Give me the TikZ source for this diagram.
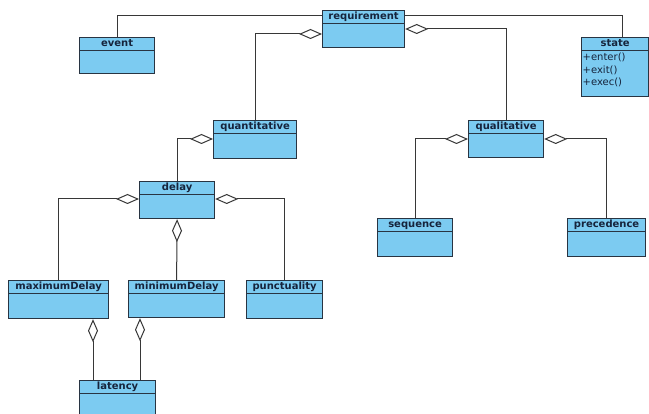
\documentclass[tikz,border=0pt]{standalone}
\usepackage{fontspec}
\setmainfont{DejaVu Sans}
\usepackage{tikz}
\usetikzlibrary{arrows.meta,calc}
\definecolor{clsfill}{RGB}{124,203,241}
\definecolor{clsline}{RGB}{40,52,66}
\definecolor{clstext}{RGB}{22,36,60}
\definecolor{lnk}{RGB}{55,55,55}
\tikzset{
  cls/.style={draw=clsline,fill=clsfill,line width=1.2pt,anchor=north west,inner sep=0pt},
  clshead/.style={draw=clsline,fill=clsfill,line width=1.2pt,anchor=north,inner sep=0pt,
    minimum height=13pt,text height=7.5pt,text depth=2pt,
    font=\fontsize{10}{12}\selectfont\bfseries,text=clstext},
  clsattr/.style={anchor=north west,align=left,inner sep=0pt,
    font=\fontsize{10}{12.5}\selectfont,text=clstext},
  assoc/.style={line width=1pt,draw=lnk},                                   % plain association
  agg/.style={assoc,{Diamond[open,length=23pt,width=10pt]}-},              % aggregation, diamond at whole
}

\begin{document}
\begin{tikzpicture}[x=1pt,y=-1pt]
  \fill[white] (0,0) rectangle (649,414);
  \useasboundingbox (0,0) rectangle (649,414);
  \clip (0,0) rectangle (649,414);
  % classes: name/x/y/width/height
  \foreach \nm/\x/\y/\w/\h in {requirement/322/10/82/37, event/79/37/75/36, state/581/37/67/59,
      quantitative/213/120/83/38, qualitative/468/120/75/37, delay/139/181/75/37,
      sequence/377/218/75/38, precedence/567/218/78/38, maximumDelay/8/280/100/38,
      minimumDelay/128/280/96/37, punctuality/246/280/76/38, latency/79/380/76/45}{
    \node[cls,minimum width=\w pt,minimum height=\h pt] (\nm) at (\x,\y) {};
    \node[clshead,minimum width=\w pt] (\nm-t) at (\nm.north) {\nm};
  }
  \node[clsattr] (state-ops) at ([xshift=1.5pt,yshift=-2pt]state-t.south west)
    {+enter()\\+exit()\\+exec()};
  % associations
  \draw[assoc] (event.north) |- ([yshift=-6pt]requirement.north west);
  \draw[assoc] ([yshift=-6pt]requirement.north east) -| ([xshift=41pt]state.north west);
  % aggregations
  \draw[agg] ([yshift=-24pt]requirement.north west) -| (quantitative.north);
  \draw[agg] ([yshift=-19pt]requirement.north east) -| (qualitative.north);
  \draw[agg] ([yshift=-19pt]quantitative.north west) -| (delay.north);
  \draw[agg] ([yshift=-18pt]delay.north west) -| (maximumDelay.north);
  \draw[agg] ([yshift=-18pt]delay.north east) -| (punctuality.north);
  \draw[agg] (delay.south) -- (minimumDelay.north);
  \draw[agg] ([yshift=-19pt]qualitative.north west) -| (sequence.north);
  \draw[agg] ([yshift=-19pt]qualitative.north east) -| (precedence.north);
  \draw[agg] ([xshift=85pt]maximumDelay.south west) -- ([xshift=14pt]latency.north west);
  \draw[agg] ([xshift=12pt]minimumDelay.south west) -- ([xshift=61pt]latency.north west);
\end{tikzpicture}
\end{document}
